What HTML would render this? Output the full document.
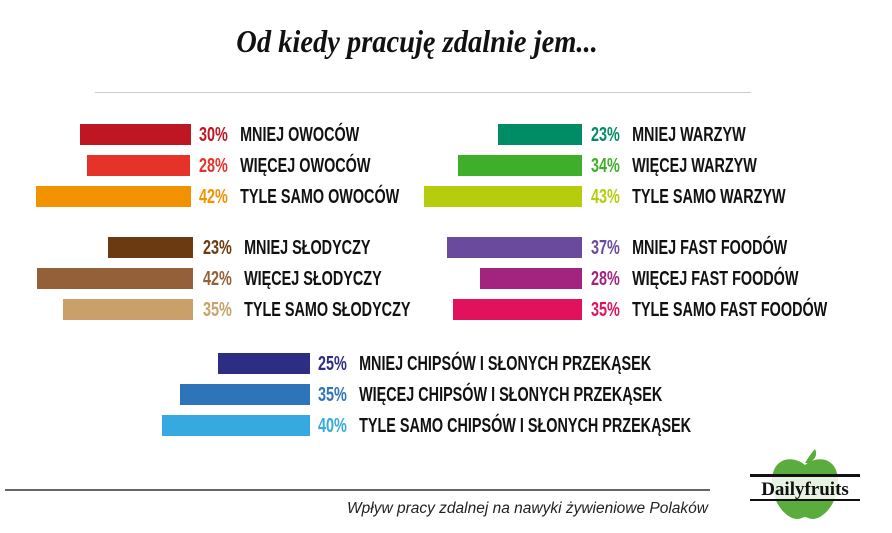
<!DOCTYPE html>
<html><head><meta charset="utf-8"><style>
body{margin:0;width:892px;height:533px;background:#fff;position:relative;overflow:hidden;font-family:"Liberation Sans",sans-serif}
.b{position:absolute;height:21px}
.t{position:absolute;height:21px;line-height:22px;font-size:20px;font-weight:bold;white-space:nowrap;color:#111;transform:scaleX(0.72);transform-origin:left center}
.t span{display:inline-block;margin-right:17px}
</style></head><body>
<div style="position:absolute;left:117px;top:23px;width:600px;text-align:center;white-space:nowrap;font-family:'Liberation Serif',serif;font-style:italic;font-weight:bold;font-size:32px;color:#111;transform:scaleX(0.89);transform-origin:center">Od kiedy pracuję zdalnie jem...</div>
<div style="position:absolute;left:95px;top:92px;width:656px;height:1px;background:#ccc"></div>

<div class="b" style="left:80px;top:124px;width:111px;background:#be1622"></div>
<div class="b" style="left:87px;top:155px;width:103px;background:#e63329"></div>
<div class="b" style="left:36px;top:186px;width:155px;background:#f39200"></div>
<div class="t" style="left:199px;top:124px"><span style="color:#be1622">30%</span>MNIEJ OWOCÓW</div>
<div class="t" style="left:199px;top:155px"><span style="color:#e63329">28%</span>WIĘCEJ OWOCÓW</div>
<div class="t" style="left:199px;top:186px"><span style="color:#f39200">42%</span>TYLE SAMO OWOCÓW</div>

<div class="b" style="left:108px;top:237px;width:85px;background:#6b3a11"></div>
<div class="b" style="left:37px;top:268px;width:156px;background:#94603a"></div>
<div class="b" style="left:63px;top:299px;width:130px;background:#c9a06a"></div>
<div class="t" style="left:203px;top:237px"><span style="color:#6b3a11">23%</span>MNIEJ SŁODYCZY</div>
<div class="t" style="left:203px;top:268px"><span style="color:#94603a">42%</span>WIĘCEJ SŁODYCZY</div>
<div class="t" style="left:203px;top:299px"><span style="color:#c9a06a">35%</span>TYLE SAMO SŁODYCZY</div>

<div class="b" style="left:498px;top:124px;width:84px;background:#008c64"></div>
<div class="b" style="left:458px;top:155px;width:124px;background:#3fae2a"></div>
<div class="b" style="left:424px;top:186px;width:158px;background:#b5cd0d"></div>
<div class="t" style="left:591px;top:124px"><span style="color:#008c64">23%</span>MNIEJ WARZYW</div>
<div class="t" style="left:591px;top:155px"><span style="color:#3fae2a">34%</span>WIĘCEJ WARZYW</div>
<div class="t" style="left:591px;top:186px"><span style="color:#b5cd0d">43%</span>TYLE SAMO WARZYW</div>

<div class="b" style="left:447px;top:237px;width:135px;background:#6a4a9c"></div>
<div class="b" style="left:480px;top:268px;width:102px;background:#a3247f"></div>
<div class="b" style="left:453px;top:299px;width:129px;background:#e2115b"></div>
<div class="t" style="left:591px;top:237px"><span style="color:#6a4a9c">37%</span>MNIEJ FAST FOODÓW</div>
<div class="t" style="left:591px;top:268px"><span style="color:#a3247f">28%</span>WIĘCEJ FAST FOODÓW</div>
<div class="t" style="left:591px;top:299px"><span style="color:#e2115b">35%</span>TYLE SAMO FAST FOODÓW</div>

<div class="b" style="left:218px;top:353px;width:92px;background:#2e2d84"></div>
<div class="b" style="left:180px;top:384px;width:130px;background:#2d74b9"></div>
<div class="b" style="left:162px;top:415px;width:148px;background:#36a9e1"></div>
<div class="t" style="left:318px;top:353px"><span style="color:#2e2d84">25%</span>MNIEJ CHIPSÓW I SŁONYCH PRZEKĄSEK</div>
<div class="t" style="left:318px;top:384px"><span style="color:#2d74b9">35%</span>WIĘCEJ CHIPSÓW I SŁONYCH PRZEKĄSEK</div>
<div class="t" style="left:318px;top:415px"><span style="color:#36a9e1">40%</span>TYLE SAMO CHIPSÓW I SŁONYCH PRZEKĄSEK</div>

<div style="position:absolute;left:5px;top:489px;width:705px;height:2px;background:#666"></div>
<div style="position:absolute;right:184px;top:500px;font-family:'Liberation Sans',sans-serif;font-style:italic;font-size:15.5px;color:#222">Wpływ pracy zdalnej na nawyki żywieniowe Polaków</div>

<svg style="position:absolute;left:745px;top:445px" width="120" height="80" viewBox="0 0 120 80">
<path d="M60 18 Q66 8 70 4 Q74 12 64 18 Z" fill="#5aac3c"/>
<path d="M60 20 C48 10 28 12 27 35 C26 58 42 74 52 74 C56 74 58 72 60 72 C62 72 64 74 68 74 C78 74 94 58 93 35 C92 12 72 10 60 20 Z" fill="#5aac3c"/>
<rect x="5" y="29" width="110" height="3" fill="#111"/>
<rect x="5" y="54" width="110" height="2" fill="#111"/>
<rect x="3" y="32" width="114" height="22" fill="#fff" opacity="0.85"/>
<text x="60" y="50" text-anchor="middle" font-family="Liberation Serif,serif" font-weight="bold" font-size="19" fill="#111">Dailyfruits</text>
</svg>
</body></html>
